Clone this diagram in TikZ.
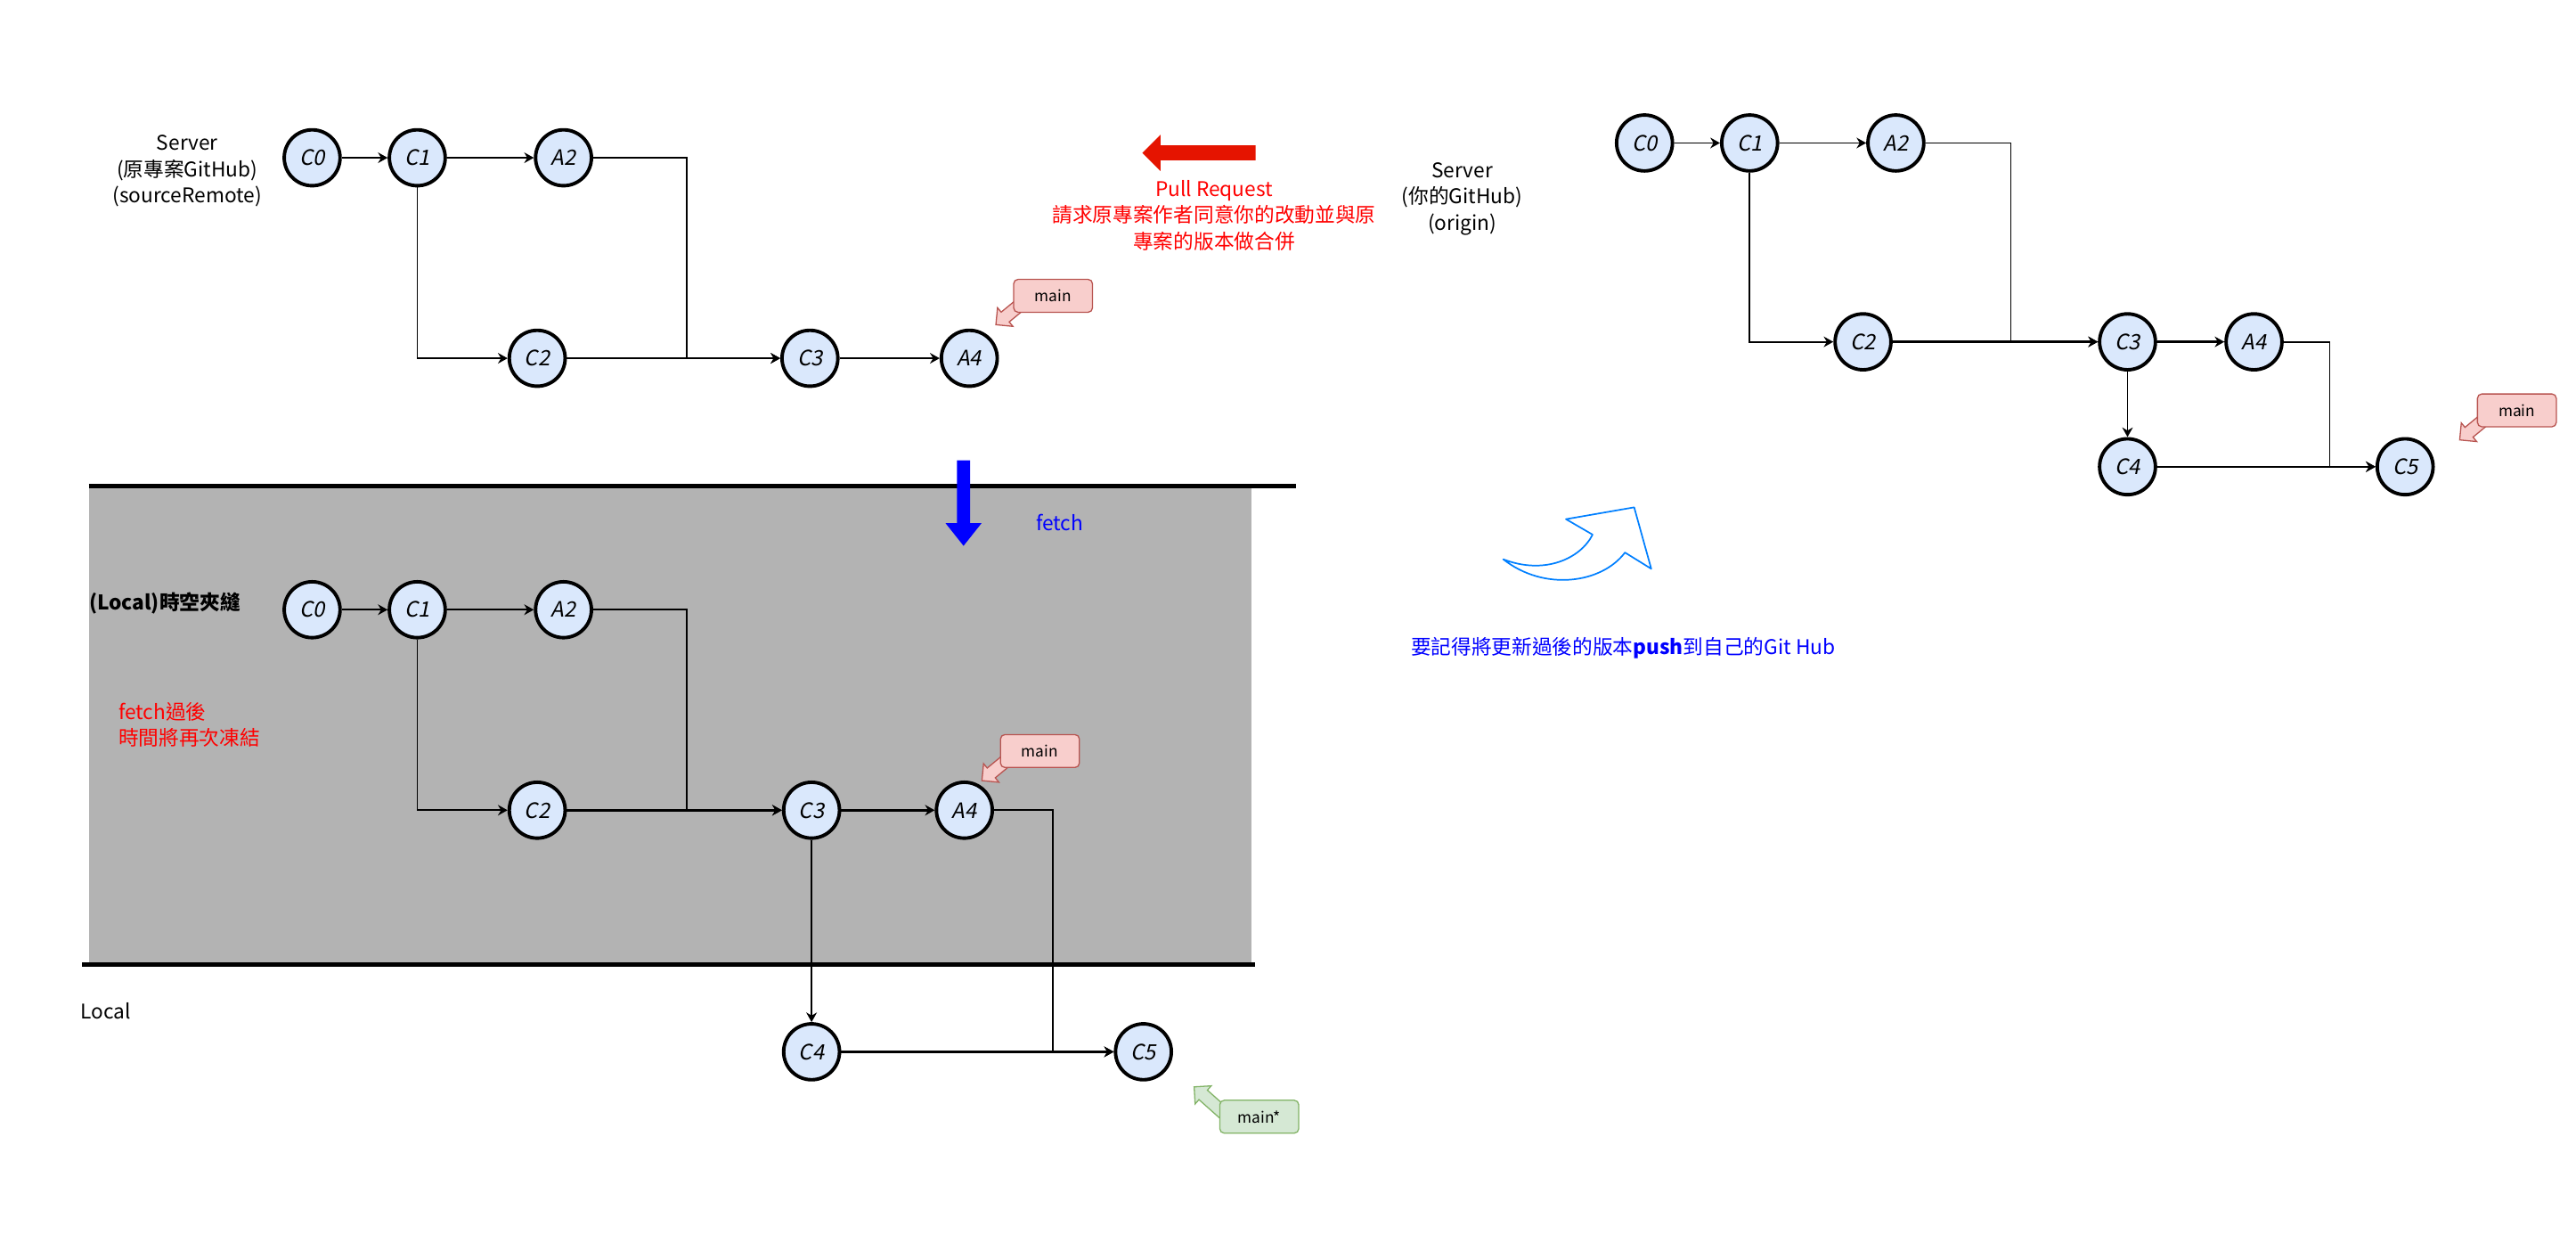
\documentclass[tikz,border=0pt]{standalone}
\usepackage{fontspec}
\setmainfont{Noto Sans CJK TC}
\newfontfamily\commitfont{Noto Sans CJK TC}[FakeSlant=0.2]
\usetikzlibrary{arrows.meta,calc,shapes.arrows}
\definecolor{commitfill}{HTML}{DAE8FC}
\definecolor{mainfill}{HTML}{F8CECC}
\definecolor{maindraw}{HTML}{B85450}
\definecolor{starfill}{HTML}{D5E8D4}
\definecolor{stardraw}{HTML}{82B366}
\definecolor{prred}{HTML}{E51400}
\definecolor{frozen}{HTML}{B3B3B3}
\definecolor{pushblue}{HTML}{007FFF}
\tikzset{
	commit/.style={circle, draw=black, line width=1.8pt, fill=commitfill,
			minimum size=1.02cm, inner sep=0pt, font=\commitfont\fontsize{11}{12}\selectfont},
	link/.style={-{Stealth[length=5pt,width=5.5pt]}, line width=0.8pt},
	boldlink/.style={link, line width=1.2pt},
	wall/.style={line width=2.3pt},
	branch/.style={rounded corners=0.08cm, line width=0.6pt, minimum width=1.44cm,
			minimum height=0.6cm, inner sep=0pt, font=\fontsize{8}{9}\selectfont},
	pointer/.style={single arrow, line width=0.6pt, inner xsep=0pt, inner ysep=0.105cm,
			single arrow head extend=0.105cm, anchor=tip},
	note/.style={align=center, font=\fontsize{10.5}{13.7}\selectfont}
}
\begin{document}
\begin{tikzpicture}[x=0.03cm,y=-0.03cm]
	\useasboundingbox (0,0) rectangle (1568,756);
	% the frozen local area
	\fill [frozen] (54,297) rectangle (762,586);
	\draw [wall] (54,296) -- (789,296);
	\draw [wall] (50,587) -- (764,587);

	% sourceRemote
	\node [note] (srcServer) at (114,104) {Server\\(原專案GitHub)\\(sourceRemote)};
	\node [commit] (srcC0) at (190,96) {C0};
	\node [commit] (srcC1) at (254,96) {C1};
	\node [commit] (srcA2) at (343,96) {A2};
	\node [commit] (srcC2) at (327,218) {C2};
	\node [commit] (srcC3) at (493,218) {C3};
	\node [commit] (srcA4) at (590,218) {A4};
	\coordinate (srcBend) at (418,96);
	\draw [link] (srcC0) -- (srcC1);
	\draw [link] (srcC1) -- (srcA2);
	\draw [link] (srcC1) |- (srcC2);
	\draw [link] (srcA2) -- (srcBend) |- (srcC3);
	\draw [boldlink] (srcC2) -- (srcC3);
	\draw [boldlink] (srcC3) -- (srcA4);
	\node [pointer, minimum height=0.75cm, fill=mainfill, draw=maindraw, rotate=219.5] (srcPtr) at (605.8,197.9) {};
	\node [branch, fill=mainfill, draw=maindraw] (srcMain) at (641,180) {main};

	% pull request
	\node [single arrow, fill=prred, minimum height=2.07cm, inner xsep=0pt, inner ysep=0.13cm,
		single arrow head extend=0.195cm, anchor=tip, rotate=180] (prArrow) at (695,93) {};
	\node [note, text=red] (prText) at (739,131) {Pull Request\\請求原專案作者同意你的改動並與原\\專案的版本做合併};

	% origin
	\node [note] (orgServer) at (890,121) {Server\\(你的GitHub)\\(origin)};
	\node [commit] (orgC0) at (1001,87) {C0};
	\node [commit] (orgC1) at (1065,87) {C1};
	\node [commit] (orgA2) at (1154,87) {A2};
	\node [commit] (orgC2) at (1134,208) {C2};
	\node [commit] (orgC3) at (1295,208) {C3};
	\node [commit] (orgA4) at (1372,208) {A4};
	\node [commit] (orgC4) at (1295,284) {C4};
	\node [commit] (orgC5) at (1464,284) {C5};
	\coordinate (orgBendA) at (1224,87);
	\coordinate (orgBendB) at (1418,208);
	\draw [link] (orgC0) -- (orgC1);
	\draw [link] (orgC1) -- (orgA2);
	\draw [link] (orgC1) |- (orgC2);
	\draw [link] (orgA2) -- (orgBendA) |- (orgC3);
	\draw [boldlink] (orgC2) -- (orgC3);
	\draw [boldlink] (orgC3) -- (orgA4);
	\draw [link] (orgC3) -- (orgC4);
	\draw [link] (orgA4) -- (orgBendB) |- (orgC5);
	\draw [boldlink] (orgC4) -- (orgC5);
	\node [pointer, minimum height=0.75cm, fill=mainfill, draw=maindraw, rotate=219.5] (orgPtr) at (1496.8,268) {};
	\node [branch, fill=mainfill, draw=maindraw] (orgMain) at (1532,249.7) {main};

	% fetch
	\node [single arrow, fill=blue, minimum height=1.56cm, inner xsep=0pt, inner ysep=0.1125cm,
		single arrow head extend=0.21cm, single arrow tip angle=77,
		anchor=tip, rotate=-90] (fetchArrow) at (586.5,332.5) {};
	\node [note, text=blue] (fetchText) at (645,318) {fetch};

	% local
	\node [note, anchor=west, inner xsep=0pt, font=\fontsize{10.5}{13.7}\selectfont\bfseries] (locTitle) at (54,367) {(Local)時空夾縫};
	\node [note, anchor=west, inner xsep=0pt, align=left, text=red] (locFrozen) at (72,441) {fetch過後\\時間將再次凍結};
	\node [note, anchor=west, inner xsep=0pt] (locLabel) at (49,615) {Local};
	\node [commit] (locC0) at (190,371) {C0};
	\node [commit] (locC1) at (254,371) {C1};
	\node [commit] (locA2) at (343,371) {A2};
	\node [commit] (locC2) at (327,493) {C2};
	\node [commit] (locC3) at (494,493) {C3};
	\node [commit] (locA4) at (587,493) {A4};
	\node [commit] (locC4) at (494,640) {C4};
	\node [commit] (locC5) at (696,640) {C5};
	\coordinate (locBendA) at (418,371);
	\coordinate (locBendB) at (641,493);
	\draw [link] (locC0) -- (locC1);
	\draw [link] (locC1) -- (locA2);
	\draw [link] (locC1) |- (locC2);
	\draw [link] (locA2) -- (locBendA) |- (locC3);
	\draw [boldlink] (locC2) -- (locC3);
	\draw [boldlink] (locC3) -- (locA4);
	\draw [link] (locC3) -- (locC4);
	\draw [link] (locA4) -- (locBendB) |- (locC5);
	\draw [boldlink] (locC4) -- (locC5);
	\node [pointer, minimum height=0.75cm, fill=mainfill, draw=maindraw, rotate=219.5] (locPtr) at (597.3,475.3) {};
	\node [branch, fill=mainfill, draw=maindraw] (locMain) at (633,457) {main};
	\node [pointer, minimum height=0.84cm, fill=starfill, draw=stardraw, rotate=138.3] (locStarPtr) at (726.5,661) {};
	\node [branch, fill=starfill, draw=stardraw] (locStar) at (766.5,679.5) {main*};

	% push back to origin
	\draw [pushblue, line width=0.8pt, line join=round] (915,340.3)
		.. controls (940,350) and (962,340) .. (969.4,325.3)
		-- (953.2,315.9) -- (994.7,308.7) -- (1005.1,346.1) -- (989.1,336.2)
		.. controls (975,355) and (940,360) .. cycle;
	\node [note, text=blue] (pushText) at (988,394.5) {要記得將更新過後的版本\textbf{push}到自己的Git Hub};
\end{tikzpicture}
\end{document}
